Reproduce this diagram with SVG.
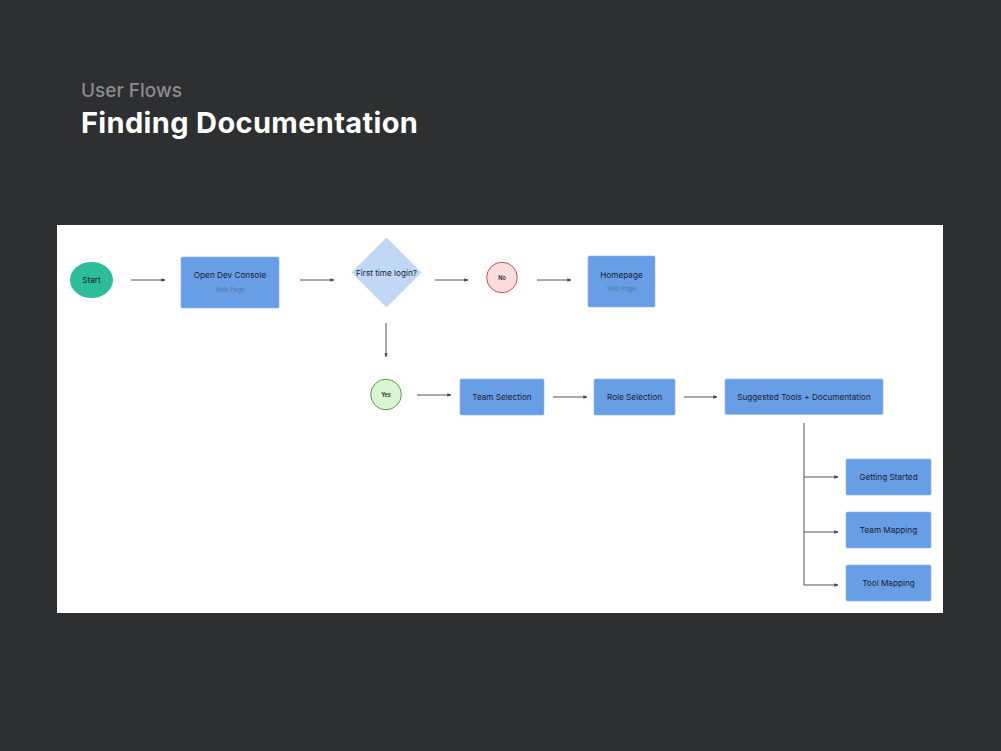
<svg xmlns="http://www.w3.org/2000/svg" width="1001" height="751" viewBox="0 0 1001 751">
<defs>
<marker id="ah" viewBox="0 0 6 6" refX="5.5" refY="3" markerWidth="4" markerHeight="4" orient="auto" markerUnits="userSpaceOnUse">
<path d="M0,0.5 L6,3 L0,5.5 Z" fill="#444"/>
</marker>
<style>
.lbl{font-family:Inter,"Liberation Sans",sans-serif;font-size:8.2px;fill:#1a2230;text-anchor:middle}
.sub{font-family:Inter,"Liberation Sans",sans-serif;font-size:6px;fill:#5576aa;text-anchor:middle}
.box{fill:#679ee6;stroke:#8db8f0;stroke-width:0.6}
.con{stroke:#555;stroke-width:1;fill:none;marker-end:url(#ah)}
.line{stroke:#555;stroke-width:1;fill:none}
</style>
</defs>
<rect x="0" y="0" width="1001" height="751" fill="#2e2f31"/>
<text x="81" y="97" font-family="Inter,'Liberation Sans',sans-serif" font-size="19" font-weight="500" fill="#8a8b8d">User Flows</text>
<text x="81" y="133" font-family="Inter,'Liberation Sans',sans-serif" font-size="29" font-weight="700" letter-spacing="0.35" fill="#ffffff">Finding Documentation</text>
<rect x="57" y="225" width="886" height="388" fill="#ffffff"/>

<g id="connectors">
<line class="con" x1="131" y1="280" x2="165" y2="280"/>
<line class="con" x1="300" y1="280" x2="334" y2="280"/>
<line class="con" x1="435" y1="280" x2="468" y2="280"/>
<line class="con" x1="537" y1="280" x2="571" y2="280"/>
<line class="con" x1="386" y1="323" x2="386" y2="357"/>
<line class="con" x1="417" y1="395" x2="451" y2="395"/>
<line class="con" x1="553" y1="397" x2="587" y2="397"/>
<line class="con" x1="684" y1="397" x2="717" y2="397"/>
<line class="line" x1="804" y1="423" x2="804" y2="585"/>
<line class="con" x1="804" y1="477" x2="838" y2="477"/>
<line class="con" x1="804" y1="532" x2="838" y2="532"/>
<line class="con" x1="804" y1="585" x2="838" y2="585"/>
</g>

<g id="start">
<ellipse cx="91.5" cy="280" rx="21.5" ry="18" fill="#2dbd97"/>
<text class="lbl" x="91.5" y="283">Start</text>
</g>
<g id="open-dev-console">
<rect class="box" x="181" y="257" width="98" height="51" rx="1.5"/>
<text class="lbl" x="230" y="278">Open Dev Console</text>
<text class="sub" x="230" y="292">Web Page</text>
</g>
<g id="first-time-login">
<polygon points="386.5,238 421,272.5 386.5,307 352,272.5" fill="#c1d7f6" stroke="#c1d7f6" stroke-width="1" stroke-linejoin="round"/>
<text class="lbl" x="386.5" y="275.5">First time login?</text>
</g>
<g id="no">
<circle cx="502" cy="277.5" r="15.3" fill="#fddcdc" stroke="#c65454" stroke-width="1"/>
<text class="lbl" x="502" y="279.5" style="font-size:5.5px;font-weight:600">No</text>
</g>
<g id="homepage">
<rect class="box" x="588" y="256" width="67" height="51" rx="1.5"/>
<text class="lbl" x="621.5" y="278">Homepage</text>
<text class="sub" x="621.5" y="291">Web Page</text>
</g>
<g id="yes">
<circle cx="386" cy="394.5" r="15.3" fill="#d9f5d1" stroke="#5f9a52" stroke-width="1"/>
<text class="lbl" x="386" y="396.5" style="font-size:5.5px;font-weight:600">Yes</text>
</g>
<g id="team-selection">
<rect class="box" x="460" y="379" width="84" height="36" rx="1.5"/>
<text class="lbl" x="502" y="400">Team Selection</text>
</g>
<g id="role-selection">
<rect class="box" x="594" y="379" width="81" height="36" rx="1.5"/>
<text class="lbl" x="634.5" y="400">Role Selection</text>
</g>
<g id="suggested-tools">
<rect class="box" x="725" y="379" width="158" height="35.5" rx="1.5"/>
<text class="lbl" x="804" y="400">Suggested Tools + Documentation</text>
</g>
<g id="getting-started">
<rect class="box" x="846" y="459" width="85" height="36" rx="1.5"/>
<text class="lbl" x="888.5" y="480">Getting Started</text>
</g>
<g id="team-mapping">
<rect class="box" x="846" y="512" width="85" height="36" rx="1.5"/>
<text class="lbl" x="888.5" y="533">Team Mapping</text>
</g>
<g id="tool-mapping">
<rect class="box" x="846" y="565" width="85" height="36" rx="1.5"/>
<text class="lbl" x="888.5" y="586">Tool Mapping</text>
</g>
</svg>
